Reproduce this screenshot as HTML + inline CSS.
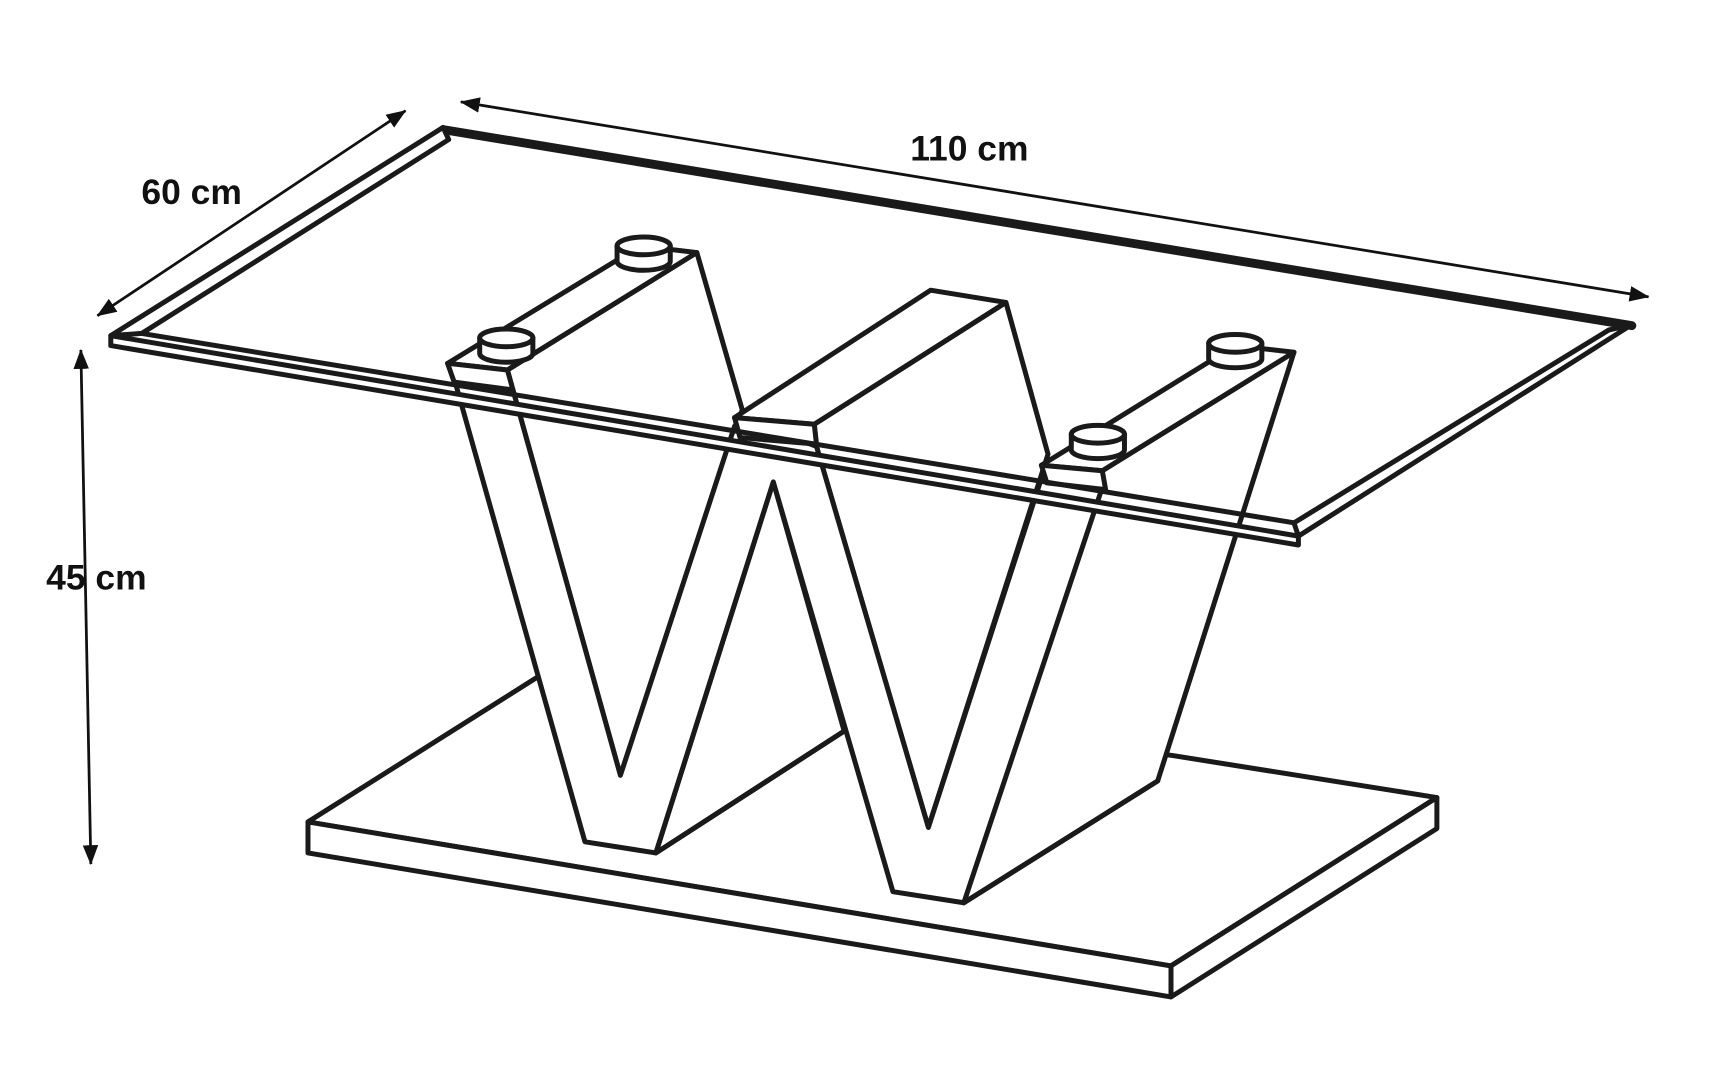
<!DOCTYPE html>
<html><head><style>html,body{margin:0;padding:0;background:#fff}svg{display:block}</style></head><body>
<svg width="1736" height="1080" viewBox="0 0 1567 975" preserveAspectRatio="none" xmlns="http://www.w3.org/2000/svg">
<defs><marker id="a" markerWidth="18" markerHeight="14" refX="17" refY="7" orient="auto-start-reverse" markerUnits="userSpaceOnUse" viewBox="0 0 18 14"><path d="M0,0L18,7L0,14z" fill="#111"/></marker></defs>
<g fill="none" stroke="#1a1a1a" stroke-width="4.5" stroke-linejoin="round" stroke-linecap="round">
<polygon points="278,742 484,612 1058,682 1297,720 1057,872" fill="#fff"/>
<polygon points="278,742 1057,872 1057,900 278,770" fill="#fff"/>
<polygon points="1057,872 1297,720 1297,748 1057,900" fill="#fff"/>
<polygon points="458,334 629,228 670,370 560,700 463,352" fill="#fff"/>
<polygon points="735,383 908,273 946,410 838,747 737,403" fill="#fff"/>
<polygon points="995,425 1168,318 1045,705 870,815" fill="#fff"/>
<polygon points="592,770 762,660 698,435" fill="#fff"/>
<polygon points="410,342 463,352 560,700 663,385 668,377 737,403 838,747 940,432 995,440 870,815 806,805 698,435 592,770 528,760" fill="#fff"/>
<line x1="592" y1="770" x2="762" y2="660"/>
<line x1="1045" y1="705" x2="870" y2="815"/>
<polygon points="404,328 458,334 629,228 578,222" fill="#fff"/>
<polygon points="404,328 410,345 463,352 458,334" fill="#fff"/>
<polygon points="663,377 735,383 908,273 840,262" fill="#fff"/>
<polygon points="663,377 668,395 737,401 735,383" fill="#fff"/>
<polygon points="940,420 995,425 1168,318 1115,312" fill="#fff"/>
<polygon points="940,420 945,436 998,442 995,425" fill="#fff"/>
<g fill="#fff">
<path d="M557,222 v14 a24,8 0 0 0 48,0 v-14"/><ellipse cx="581" cy="222" rx="24" ry="8"/>
<path d="M433,305 v14 a24,8 0 0 0 48,0 v-14"/><ellipse cx="457" cy="305" rx="24" ry="8"/>
<path d="M967,392 v14 a24,8 0 0 0 48,0 v-14"/><ellipse cx="991" cy="392" rx="24" ry="8"/>
<path d="M1091,310 v14 a24,8 0 0 0 48,0 v-14"/><ellipse cx="1115" cy="310" rx="24" ry="8"/>
</g>
<line x1="400" y1="117" x2="1473" y2="294" stroke-width="8"/>
<polygon points="100,303 400,115 405,126 128,301" fill="#fff"/>
<polygon points="1473,293 1172,484 1168,472 1452,298" fill="#fff"/>
<polygon points="100,303 1172,484 1172,492 100,312" fill="#fff"/>
<line x1="128" y1="301" x2="1168" y2="472"/>
</g>
<g stroke="#111" stroke-width="2.5" fill="none">
<line x1="88" y1="285" x2="366" y2="100" marker-start="url(#a)" marker-end="url(#a)"/>
<line x1="416" y1="92" x2="1488" y2="268" marker-start="url(#a)" marker-end="url(#a)"/>
<line x1="73" y1="316" x2="82" y2="780" marker-start="url(#a)" marker-end="url(#a)"/>
</g>
<g font-family="Liberation Sans, sans-serif" font-weight="bold" font-size="32" fill="#111" text-anchor="middle">
<text x="173" y="184">60 cm</text>
<text x="875" y="145">110 cm</text>
<text x="87" y="532">45 cm</text>
</g>
</svg>
</body></html>
